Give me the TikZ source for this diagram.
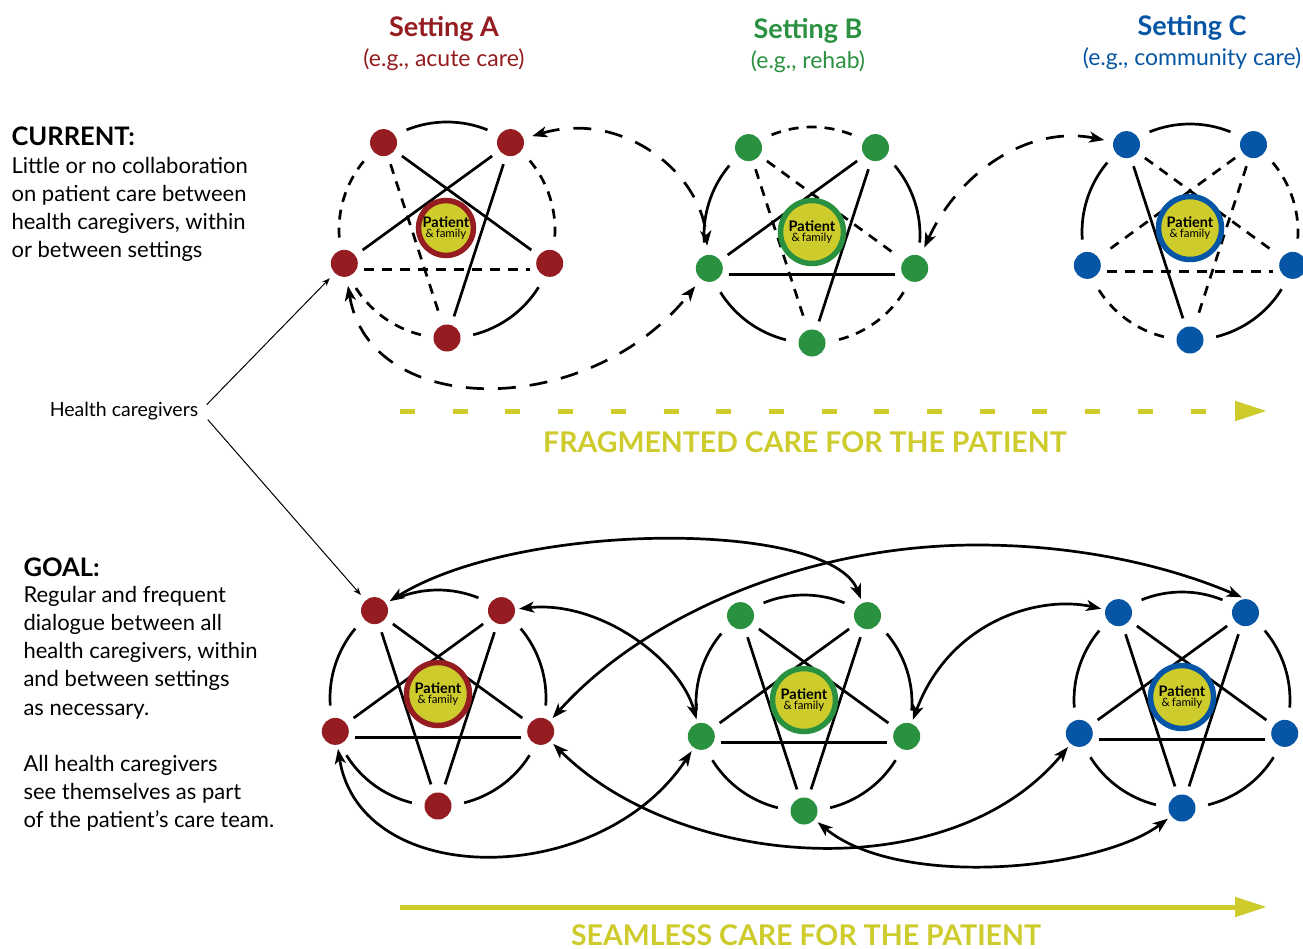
\documentclass[tikz,border=0pt]{standalone}
\usepackage{fontspec}
\setmainfont{Lato}
\usetikzlibrary{arrows.meta,calc}
\definecolor{cred}{HTML}{951C20}
\definecolor{cgreen}{HTML}{2A9140}
\definecolor{cblue}{HTML}{0656A5}
\definecolor{cyel}{HTML}{CECC2C}
\newcommand\ptext{{\bfseries\fontsize{14.5}{15}\selectfont Patient}\\[-2pt]{\fontsize{11.5}{13}\selectfont\&\,family}}
\newcommand\mkgroup[4]{%
  \coordinate (#1c) at (#2,#3);
  \foreach \n/\a in {t1/-126,t2/-54,r/18,b/90,l/162}{
    \node[dot,fill=#4] (#1\n) at ($(#1c)+(\a:108)$) {};
  }
}
\newcommand\mkarcs[2]{%
  \foreach \a/\st in {#2}{
    \draw[\st] ($(#1c)+(\a+14:108)$) arc[start angle=\a+14,end angle=\a+58,radius=108];
  }
}
\newcommand\mkchords[2]{%
  \foreach \p/\q/\st in {#2}{
    \draw[\st,shorten <=9,shorten >=9] (#1\p) -- (#1\q);
  }
}
\newcommand\mklr[2]{%
  \draw[#2,shorten <=6,shorten >=6] ([yshift=-6pt]#1l.east) -- ([yshift=-6pt]#1r.west);
}
\begin{document}
\begin{tikzpicture}[x=1pt,y=-1pt,
  dot/.style={circle,minimum size=27,inner sep=0,draw=none},
  pat/.style={circle,minimum size=63,inner sep=0,line width=5.5,fill=cyel,align=center,text=black},
  se/.style={line width=2.7,black},
  de/.style={line width=2.7,black,dash pattern=on 10 off 8},
  conn/.style={line width=2.7,black,{Stealth[length=15,width=11,inset=4]}-{Stealth[length=15,width=11,inset=4]}},
  dconn/.style={conn,dash pattern=on 18 off 14,shorten <=9,shorten >=9},
  bconn/.style={conn,shorten <=4,shorten >=4},
  thinarrow/.style={line width=1,black,-{Stealth[length=8,width=6]},shorten >=7},
  hdr/.style={font=\bfseries\fontsize{27}{30}\selectfont,anchor=base},
  sub/.style={font=\fontsize{23}{26}\selectfont,anchor=base},
  lbold/.style={font=\bfseries\fontsize{25.5}{28}\selectfont,anchor=base west},
  ltxt/.style={font=\fontsize{22}{26}\selectfont,anchor=base west},
  care/.style={font=\bfseries\fontsize{28.5}{32}\selectfont,text=cyel,anchor=base}
]
\fill[white] (0,0) rectangle (1303,949);
\useasboundingbox (0,0) rectangle (1303,949);

% headers
\node[hdr,text=cred] (hA) at (444,37) {Setting A};
\node[sub,text=cred] (sA) at (444,67) {(e.g., acute care)};
\node[hdr,text=cgreen] (hB) at (808,39) {Setting B};
\node[sub,text=cgreen] (sB) at (808,69) {(e.g., rehab)};
\node[hdr,text=cblue] (hC) at (1192,36) {Setting C};
\node[sub,text=cblue] (sC) at (1192,66) {(e.g., community care)};

% left texts
\node[lbold] (cur0) at (8,146) {CURRENT:};
\node[ltxt] (cur1) at (8,174) {Little or no collaboration};
\node[ltxt] (cur2) at (8,202) {on patient care between};
\node[ltxt] (cur3) at (8,230) {health caregivers, within};
\node[ltxt] (cur4) at (8,258) {or between settings};

\node[lbold] (g0) at (20,576) {GOAL:};
\node[ltxt] (g1) at (20,602) {Regular and frequent};
\node[ltxt] (g2) at (20,630) {dialogue between all};
\node[ltxt] (g3) at (20,658) {health caregivers, within};
\node[ltxt] (g4) at (20,686) {and between settings};
\node[ltxt] (g5) at (20,715) {as necessary.};
\node[ltxt] (g6) at (20,771) {All health caregivers};
\node[ltxt] (g7) at (20,799) {see themselves as part};
\node[ltxt] (g8) at (20,827) {of the patient’s care team.};

\node[font=\fontsize{19.5}{22}\selectfont,anchor=base] (hc) at (124,416) {Health caregivers};

% top groups
\mkgroup{TA}{447}{230}{cred}
\mkarcs{TA}{-126/se,-54/de,18/se,90/de,162/de}
\mkchords{TA}{t1/r/se,t1/b/de,t2/l/se,t2/b/se}
\mklr{TA}{de}
\node[pat,draw=cred,minimum size=55] (TAp) at (446,228) {\ptext};

\mkgroup{TB}{812}{235}{cgreen}
\mkarcs{TB}{-126/de,-54/se,18/de,90/se,162/se}
\mkchords{TB}{t1/r/de,t1/b/de,t2/l/se,t2/b/se}
\mklr{TB}{se}
\node[pat,draw=cgreen] (TBp) at (812,232) {\ptext};

\mkgroup{TC}{1190}{232}{cblue}
\mkarcs{TC}{-126/se,-54/de,18/se,90/de,162/se}
\mkchords{TC}{t1/r/de,t1/b/se,t2/l/de,t2/b/de}
\mklr{TC}{de}
\node[pat,draw=cblue] (TCp) at (1190,228) {\ptext};

% bottom groups
\mkgroup{BA}{438}{698}{cred}
\mkarcs{BA}{-126/se,-54/se,18/se,90/se,162/se}
\mkchords{BA}{t1/r/se,t1/b/se,t2/l/se,t2/b/se}
\mklr{BA}{se}
\node[pat,draw=cred] (BAp) at (438,694) {\ptext};

\mkgroup{BB}{804}{703}{cgreen}
\mkarcs{BB}{-126/se,-54/se,18/se,90/se,162/se}
\mkchords{BB}{t1/r/se,t1/b/se,t2/l/se,t2/b/se}
\mklr{BB}{se}
\node[pat,draw=cgreen] (BBp) at (804,700) {\ptext};

\mkgroup{BC}{1182}{700}{cblue}
\mkarcs{BC}{-126/se,-54/se,18/se,90/se,162/se}
\mkchords{BC}{t1/r/se,t1/b/se,t2/l/se,t2/b/se}
\mklr{BC}{se}
\node[pat,draw=cblue] (BCp) at (1182,697) {\ptext};

% top connectors
\draw[dconn] (TAl) .. controls (370,420) and (590,420) .. (TBl);
\draw[dconn] (TAt2) .. controls (620,110) and (700,170) .. (TBl);
\draw[dconn] (TBr) .. controls (960,170) and (1030,125) .. (TCt1);

% bottom connectors
\draw[bconn] (BAt1) .. controls (520,520) and (830,520) .. (BBt2);
\draw[bconn] (BAt2) .. controls (600,600) and (680,660) .. (BBl);
\draw[bconn] (BAr) .. controls (640,620) and (800,545) .. (977,545) .. controls (1100,545) and (1190,575) .. (BCt2.north);
\draw[bconn] (BBr) .. controls (950,620) and (1040,595) .. (BCt1);
\draw[bconn] (BAl) .. controls (360,890) and (600,890) .. (BBl);
\draw[bconn] (BAr) .. controls (680,870) and (950,890) .. (BCl);
\draw[bconn] (BBb) .. controls (900,890) and (1100,870) .. (BCb);

% health caregivers pointers
\draw[thinarrow] ([xshift=5pt,yshift=6pt]hc.east) -- (TAl);
\draw[thinarrow] ([xshift=6pt,yshift=-9pt]hc.east) -- (BAt1);

% yellow arrows
\coordinate (fa0) at (400,411);
\coordinate (fa1) at (1267,411);
\draw[line width=5,cyel,dash pattern=on 15 off 37.7,-{Triangle[length=32,width=19]}] (fa0) -- (fa1);
\node[care] (fr) at (805,452) {FRAGMENTED CARE FOR THE PATIENT};
\coordinate (sa0) at (400,907);
\coordinate (sa1) at (1267,907);
\draw[line width=5,cyel,-{Triangle[length=32,width=19]}] (sa0) -- (sa1);
\node[care] (sm) at (806,945) {SEAMLESS CARE FOR THE PATIENT};
\end{tikzpicture}
\end{document}
